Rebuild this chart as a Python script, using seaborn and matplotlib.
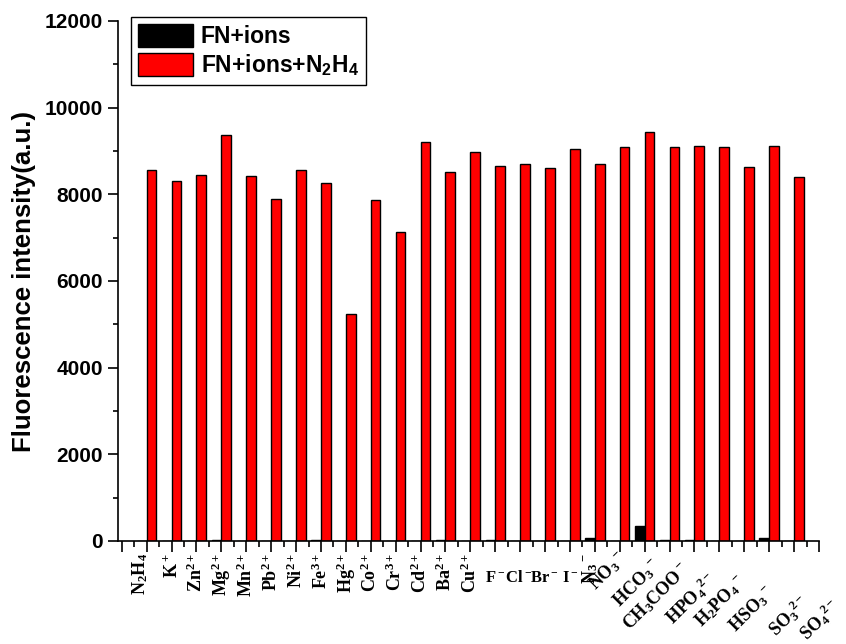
import numpy as np
import pandas as pd
import seaborn as sns
import matplotlib.pyplot as plt
from matplotlib import transforms
from matplotlib.ticker import MultipleLocator

sns.set_style("ticks", {'text.color': 'black', 'axes.labelcolor': 'black',
                        'xtick.color': 'black', 'ytick.color': 'black',
                        'axes.edgecolor': 'black'})
plt.rcParams['font.family'] = ['Liberation Sans', 'DejaVu Sans']
plt.rcParams['mathtext.default'] = 'regular'

ions = ['N$_2$H$_4$', 'K$^+$', 'Zn$^{2+}$', 'Mg$^{2+}$', 'Mn$^{2+}$', 'Pb$^{2+}$',
        'Ni$^{2+}$', 'Fe$^{3+}$', 'Hg$^{2+}$', 'Co$^{2+}$', 'Cr$^{3+}$', 'Cd$^{2+}$',
        'Ba$^{2+}$', 'Cu$^{2+}$', 'F$^-$', 'Cl$^-$', 'Br$^-$', 'I$^-$', 'N$_3$$^-$',
        'NO$_3$$^-$', 'HCO$_3$$^-$', 'CH$_3$COO$^-$', 'HPO$_4$$^{2-}$', 'H$_2$PO$_4$$^-$',
        'HSO$_3$$^-$', 'SO$_3$$^{2-}$', 'SO$_4$$^{2-}$']

fn_ions = [10, 8, 10, 12, 10, 8, 10, 12, 10, 8, 10, 10, 12, 10, 30, 10, 8, 10, 80,
           10, 340, 12, 25, 10, 10, 60, 10]
fn_ions_n2h4 = [8570, 8310, 8440, 9370, 8430, 7890, 8560, 8270, 5230, 7860, 7120, 9210,
                8520, 8980, 8660, 8710, 8610, 9040, 8690, 9100, 9430, 9100, 9120, 9090,
                8630, 9120, 8400]

series = ['FN+ions', 'FN+ions+N$_2$H$_4$']

# tick label layout: rotation, dx, dy in pixels from the tick on the x axis, font size
label_layout = ([(90, -6, 12, 13)] + [(90, 0, 12, 13)] * 13 +
                [(0, 0, 29, 12), (0, -2, 29, 12), (0, -1, 29, 12), (0, 0, 29, 12)] +
                [(90, -5, 12, 13)] +
                [(45, -12, 30, 13), (45, -8, 42, 13), (45, -13, 56, 13), (45, -3, 58, 13),
                 (45, 1, 60, 13), (45, 8, 68, 13), (45, 20, 75, 13), (45, 26, 79, 13)])

df = pd.DataFrame({
    'ion': ions * 2,
    'intensity': fn_ions + fn_ions_n2h4,
    'series': [series[0]] * len(ions) + [series[1]] * len(ions),
})

fig, ax = plt.subplots(figsize=(8.46, 6.44))
fig.subplots_adjust(left=118/846, right=819/846, bottom=1-541/644, top=1-21/644)

sns.barplot(data=df, x='ion', y='intensity', hue='series', order=ions,
            hue_order=series, palette=['black', 'red'], saturation=1,
            edgecolor='black', linewidth=1, width=0.78, legend=False, ax=ax)

ax.set_xlim(-1.15, 27)
ax.set_ylim(0, 12000)
ax.set_xticks(np.arange(-1, 28))
ax.set_xticklabels([])
ax.xaxis.set_minor_locator(MultipleLocator(0.5))
ax.yaxis.set_major_locator(MultipleLocator(2000))
ax.yaxis.set_minor_locator(MultipleLocator(1000))
ax.tick_params(axis='x', which='major', length=8, width=1.2, direction='out')
ax.tick_params(axis='x', which='minor', length=4.5, width=1.2, direction='out')
ax.tick_params(axis='y', which='major', length=7, width=1.2, pad=4, labelsize=15)
ax.tick_params(axis='y', which='minor', length=3.5, width=1.2)
for lab in ax.get_yticklabels():
    lab.set_fontweight('bold')
for s in ['left', 'bottom']:
    ax.spines[s].set_linewidth(1.2)
sns.despine(ax=ax)

ax.set_xlabel('')
ax.set_ylabel('Fluorescence intensity(a.u.)', fontsize=18.5, fontweight='bold', labelpad=6)

base = transforms.blended_transform_factory(ax.transData, ax.transAxes)
for i, (name, (rot, dx, dy, fs)) in enumerate(zip(ions, label_layout)):
    off = transforms.ScaledTranslation(dx / 100, -dy / 100, fig.dpi_scale_trans)
    va = 'center' if rot == 45 else 'top'
    ax.text(i, 0, name, transform=base + off, rotation=rot, ha='center', va=va,
            family='Liberation Serif', fontweight='bold', fontsize=fs, clip_on=False)

ax.legend(ax.containers, series, loc='upper left',
          bbox_to_anchor=(131/846, 1-17/644), bbox_transform=fig.transFigure,
          frameon=True, fancybox=False, edgecolor='black', framealpha=1,
          prop=dict(family='Liberation Sans', weight='bold', size=16.5),
          handlelength=2.4, handleheight=1.15, labelspacing=0.2, borderpad=0.3,
          handletextpad=0.35, borderaxespad=0)

fig.savefig('out.png', dpi=100)
